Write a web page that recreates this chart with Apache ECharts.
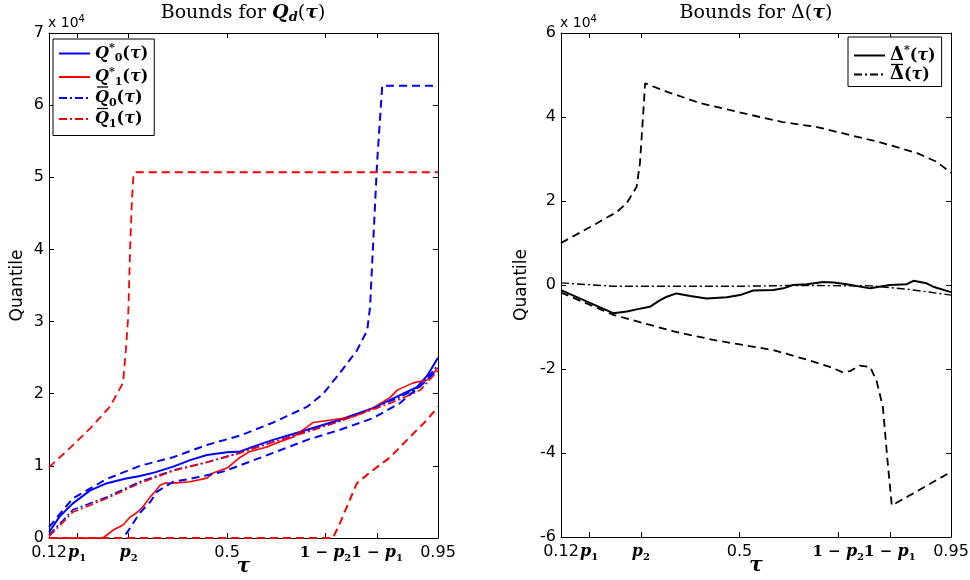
<!DOCTYPE html>
<html>
<head>
<meta charset="utf-8">
<script src="https://cdn.jsdelivr.net/npm/echarts@6/dist/echarts.min.js"></script>
<style>
  html, body { margin: 0; padding: 0; background: #fff; }
  #chart { width: 970px; height: 580px; }
</style>
</head>
<body>
<div id="chart"></div>
<script>
// x ticks (tau) and their labels
const tauTicks = [0.12, 0.18, 0.29, 0.5, 0.71, 0.82, 0.95];
const tauTickLabels = ['0.12', 'p1', 'p2', '0.5', '1-p2', '1-p1', '0.95'];
const quantileTicks = [0, 1, 2, 3, 4, 5, 6, 7];
const deltaTicks = [-6, -4, -2, 0, 2, 4, 6];

// left panel, values in units of 10^4, [tau, value]
const q0Star = [[0.12,0.08],[0.143,0.3],[0.171,0.48],[0.208,0.66],[0.244,0.76],[0.282,0.82],[0.314,0.86],[0.346,0.91],[0.385,0.99],[0.421,1.08],[0.457,1.15],[0.5,1.19],[0.528,1.2],[0.562,1.28],[0.598,1.36],[0.671,1.5],[0.741,1.64],[0.811,1.8],[0.869,1.98],[0.905,2.09],[0.927,2.25],[0.95,2.5]];
const q1Star = [[0.12,0],[0.235,0],[0.257,0.11],[0.278,0.18],[0.293,0.29],[0.307,0.35],[0.32,0.43],[0.336,0.57],[0.346,0.64],[0.357,0.73],[0.367,0.76],[0.385,0.76],[0.421,0.78],[0.457,0.83],[0.47,0.9],[0.5,0.97],[0.528,1.12],[0.549,1.2],[0.585,1.26],[0.607,1.32],[0.641,1.4],[0.671,1.54],[0.683,1.6],[0.726,1.64],[0.769,1.68],[0.811,1.8],[0.848,1.95],[0.863,2.05],[0.897,2.15],[0.927,2.19],[0.95,2.36]];
const q0Bar = [[0.12,0.04],[0.171,0.39],[0.244,0.57],[0.314,0.78],[0.385,0.94],[0.457,1.05],[0.525,1.18],[0.598,1.33],[0.671,1.48],[0.741,1.62],[0.811,1.8],[0.869,1.95],[0.912,2.1],[0.95,2.4]];
const q1Bar = [[0.12,0.02],[0.171,0.36],[0.244,0.55],[0.314,0.76],[0.385,0.93],[0.457,1.05],[0.525,1.17],[0.598,1.33],[0.671,1.47],[0.741,1.62],[0.811,1.78],[0.869,1.92],[0.912,2.05],[0.95,2.32]];
const q0Upper = [[0.12,0.15],[0.171,0.55],[0.244,0.82],[0.314,1.0],[0.385,1.12],[0.457,1.29],[0.528,1.42],[0.598,1.6],[0.671,1.82],[0.705,2.0],[0.741,2.29],[0.777,2.6],[0.799,2.88],[0.805,3.2],[0.811,4.0],[0.82,5.2],[0.831,6.27],[0.95,6.27]];
const q0Lower = [[0.12,0],[0.276,0],[0.286,0.07],[0.314,0.35],[0.336,0.5],[0.35,0.64],[0.385,0.78],[0.421,0.82],[0.457,0.87],[0.491,0.92],[0.525,1.0],[0.598,1.18],[0.671,1.36],[0.741,1.5],[0.811,1.66],[0.869,1.87],[0.927,2.19],[0.95,2.35]];
const q1Upper = [[0.12,0.98],[0.165,1.25],[0.208,1.52],[0.25,1.82],[0.278,2.15],[0.284,2.6],[0.289,3.07],[0.293,4.0],[0.297,4.69],[0.3,5.0],[0.304,5.07],[0.95,5.07]];
const q1Lower = [[0.12,0],[0.726,0],[0.741,0.21],[0.777,0.76],[0.811,0.94],[0.848,1.12],[0.884,1.36],[0.927,1.64],[0.95,1.82]];

// right panel
const deltaStar = [[0.12,-0.12],[0.231,-0.67],[0.26,-0.63],[0.281,-0.58],[0.309,-0.52],[0.331,-0.36],[0.345,-0.28],[0.366,-0.2],[0.395,-0.26],[0.43,-0.32],[0.473,-0.29],[0.501,-0.24],[0.529,-0.13],[0.572,-0.12],[0.593,-0.08],[0.614,0],[0.643,0.02],[0.678,0.07],[0.7,0.06],[0.728,0.02],[0.778,-0.08],[0.82,0],[0.856,0.02],[0.87,0.1],[0.898,0.04],[0.912,-0.04],[0.95,-0.17]];
const deltaBar = [[0.12,0.05],[0.231,-0.03],[0.501,-0.03],[0.614,-0.01],[0.78,-0.02],[0.856,-0.1],[0.898,-0.16],[0.95,-0.24]];
const deltaUpper = [[0.12,1.0],[0.182,1.38],[0.239,1.74],[0.26,1.95],[0.281,2.34],[0.288,2.9],[0.295,4.09],[0.299,4.8],[0.303,4.83],[0.346,4.6],[0.416,4.33],[0.543,4.0],[0.592,3.88],[0.665,3.76],[0.735,3.57],[0.805,3.38],[0.878,3.14],[0.92,2.93],[0.95,2.67]];
const deltaLower = [[0.12,-0.18],[0.231,-0.71],[0.362,-1.11],[0.45,-1.32],[0.572,-1.55],[0.65,-1.8],[0.692,-1.95],[0.72,-2.08],[0.735,-2.05],[0.756,-1.92],[0.778,-1.95],[0.792,-2.3],[0.805,-2.9],[0.815,-4.2],[0.824,-5.25],[0.95,-4.45]];

const BLUE = '#0000ff', RED = '#ff0000', BLACK = '#000000';
const DASH = [8, 5];
const DASHDOT = [8, 3, 2, 3];
const SERIF = 'DejaVu Serif';
const SANS = 'DejaVu Sans';

function tauLabel(v) {
  const i = tauTicks.findIndex(t => Math.abs(t - v) < 1e-6);
  const s = i < 0 ? '' : tauTickLabels[i];
  if (s[0] === 'p') return '{m|p}{s|' + s[1] + '}';
  if (s.indexOf('-p') > 0) return '{r|1 − }{m|p}{s|' + s[3] + '}';
  return '{n|' + s + '}';
}

const tauRich = {
  n: { fontFamily: SANS, fontSize: 16, color: '#000', lineHeight: 20 },
  m: { fontFamily: SERIF, fontStyle: 'italic', fontWeight: 'bold', fontSize: 16, color: '#000', lineHeight: 20 },
  r: { fontFamily: SERIF, fontWeight: 'bold', fontSize: 15, color: '#000', lineHeight: 20 },
  s: { fontFamily: SERIF, fontWeight: 'bold', fontSize: 10, color: '#000', lineHeight: 20, verticalAlign: 'bottom' }
};

function xAxes(g) {
  const line = { onZero: false, lineStyle: { color: '#000', width: 1 } };
  const tick = { inside: true, length: 5, customValues: tauTicks, lineStyle: { color: '#000' } };
  return [{
    type: 'value', gridIndex: g, min: tauTicks[0], max: tauTicks[tauTicks.length - 1], position: 'bottom',
    axisLine: line, axisTick: tick, splitLine: { show: false },
    axisLabel: { customValues: tauTicks, margin: 5, formatter: tauLabel, rich: tauRich, color: '#000' },
    name: 'τ', nameLocation: 'middle', nameGap: 19, nameMoveOverlap: false,
    nameTextStyle: { fontFamily: SERIF, fontStyle: 'italic', fontWeight: 'bold', fontSize: 20, color: '#000' }
  }, {
    type: 'value', gridIndex: g, min: tauTicks[0], max: tauTicks[tauTicks.length - 1], position: 'top',
    axisLine: line, axisTick: tick, splitLine: { show: false }, axisLabel: { show: false }
  }];
}

function yAxes(g, ticks, gap) {
  const line = { onZero: false, lineStyle: { color: '#000', width: 1 } };
  const tick = { inside: true, length: 5, lineStyle: { color: '#000' } };
  const base = { type: 'value', gridIndex: g, min: ticks[0], max: ticks[ticks.length - 1], interval: ticks[1] - ticks[0], splitLine: { show: false } };
  return [Object.assign({}, base, {
    position: 'left', axisLine: line, axisTick: tick,
    axisLabel: { margin: 5, fontFamily: SANS, fontSize: 16, color: '#000' },
    name: 'Quantile', nameLocation: 'middle', nameGap: gap,
    nameTextStyle: { fontFamily: SANS, fontSize: 17, color: '#000' }
  }), Object.assign({}, base, {
    position: 'right', axisLine: line, axisTick: tick, axisLabel: { show: false }
  })];
}

function line(name, data, xi, yi, color, width, type) {
  return {
    name: name, type: 'line', data: data, xAxisIndex: xi, yAxisIndex: yi,
    symbol: 'none', showSymbol: false, animation: false,
    lineStyle: { color: color, width: width, type: type },
    itemStyle: { color: color }
  };
}

const legendRich = {
  i: { fontFamily: SERIF, fontStyle: 'italic', fontWeight: 'bold', fontSize: 16, color: '#000', lineHeight: 21 },
  n: { fontFamily: SERIF, fontWeight: 'bold', fontSize: 16, color: '#000', lineHeight: 21 },
  b: { fontFamily: SERIF, fontWeight: 'bold', fontSize: 18, color: '#000', lineHeight: 21 },
  u: { fontFamily: SERIF, fontWeight: 'bold', fontSize: 11, color: '#000', lineHeight: 21, verticalAlign: 'top' },
  s: { fontFamily: SERIF, fontWeight: 'bold', fontSize: 11, color: '#000', lineHeight: 21, verticalAlign: 'bottom' }
};
const legendNames = {
  q0Star: '{i|Q}{u|*}{s|0}{n|(}{i|τ}{n|)}',
  q1Star: '{i|Q}{u|*}{s|1}{n|(}{i|τ}{n|)}',
  q0Bar: '{i|Q}{s|0}{n|(}{i|τ}{n|)}',
  q1Bar: '{i|Q}{s|1}{n|(}{i|τ}{n|)}',
  deltaStar: '{b|Δ}{u|*}{n|(}{i|τ}{n|)}',
  deltaBar: '{b|Δ}{n|(}{i|τ}{n|)}'
};

function legend(data, pos, gap, padding) {
  return Object.assign({
    data: data, orient: 'vertical', itemWidth: 31, itemHeight: 12, itemGap: gap,
    padding: padding, borderColor: '#000', borderWidth: 1, borderRadius: 0, backgroundColor: '#fff',
    selectedMode: false, formatter: n => legendNames[n],
    textStyle: { rich: legendRich }, itemStyle: { opacity: 0 }
  }, pos);
}

// accent bars over Q and Delta in the legend labels
function accentBar(x1, x2, y) {
  return { type: 'line', silent: true, z: 100, shape: { x1: x1, y1: y, x2: x2, y2: y }, style: { stroke: '#000', lineWidth: 1.3 } };
}

function titleText(x, str) {
  return {
    type: 'text', x: x, y: 13, silent: true,
    style: {
      text: str, textAlign: 'center', textVerticalAlign: 'middle', align: 'center', verticalAlign: 'middle', fill: '#000',
      rich: {
        a: { fontFamily: SERIF, fontSize: 19, lineHeight: 22, fill: '#000' },
        i: { fontFamily: SERIF, fontSize: 19, fontStyle: 'italic', fontWeight: 'bold', lineHeight: 22, fill: '#000' },
        d: { fontFamily: SERIF, fontSize: 13, fontStyle: 'italic', fontWeight: 'bold', lineHeight: 22, verticalAlign: 'bottom', fill: '#000' }
      }
    }
  };
}

function scaleText(x) {
  return {
    type: 'text', x: x, y: 14, silent: true,
    style: {
      text: '{a|x 10}{b|4}', fill: '#000',
      rich: {
        a: { fontFamily: SANS, fontSize: 14, lineHeight: 16, verticalAlign: 'bottom', fill: '#000' },
        b: { fontFamily: SANS, fontSize: 10, lineHeight: 16, verticalAlign: 'top', fill: '#000' }
      }
    }
  };
}

const chart = echarts.init(document.getElementById('chart'), null, { renderer: 'canvas' });
chart.setOption({
  backgroundColor: '#fff',
  animation: false,
  grid: [
    { left: 49, top: 33, width: 389, height: 505, outerBoundsMode: 'none' },
    { left: 561, top: 33, width: 390, height: 504, outerBoundsMode: 'none' }
  ],
  xAxis: xAxes(0).concat(xAxes(1)),
  yAxis: yAxes(0, quantileTicks, 23).concat(yAxes(1, deltaTicks, 31)),
  legend: [
    legend(['q0Star', 'q1Star', 'q0Bar', 'q1Bar'], { left: 53, top: 39 }, 2.5, [4, 6, 6, 5]),
    legend(['deltaStar', 'deltaBar'], { left: 848, top: 37 }, 1, [8, 6, 3, 5])
  ],
  graphic: [
    titleText(243, '{a|Bounds for }{i|Q}{d|d}{a|(}{i|τ}{a|)}'),
    titleText(756, '{a|Bounds for Δ(}{i|τ}{a|)}'),
    scaleText(48),
    scaleText(560),
    accentBar(97, 108, 87),
    accentBar(97, 108, 108.5),
    accentBar(891, 903, 64.5)
  ],
  series: [
    line('q0Star', q0Star, 0, 0, BLUE, 2, 'solid'),
    line('q1Star', q1Star, 0, 0, RED, 1.6, 'solid'),
    line('q0Bar', q0Bar, 0, 0, BLUE, 1.6, DASHDOT),
    line('q1Bar', q1Bar, 0, 0, RED, 1.6, DASHDOT),
    line('q0Upper', q0Upper, 0, 0, BLUE, 2, DASH),
    line('q0Lower', q0Lower, 0, 0, BLUE, 2, DASH),
    line('q1Upper', q1Upper, 0, 0, RED, 1.8, DASH),
    line('q1Lower', q1Lower, 0, 0, RED, 2, DASH),
    line('deltaStar', deltaStar, 2, 2, BLACK, 2, 'solid'),
    line('deltaBar', deltaBar, 2, 2, BLACK, 1.4, DASHDOT),
    line('deltaUpper', deltaUpper, 2, 2, BLACK, 1.8, DASH),
    line('deltaLower', deltaLower, 2, 2, BLACK, 1.8, DASH)
  ]
});
</script>
</body>
</html>
